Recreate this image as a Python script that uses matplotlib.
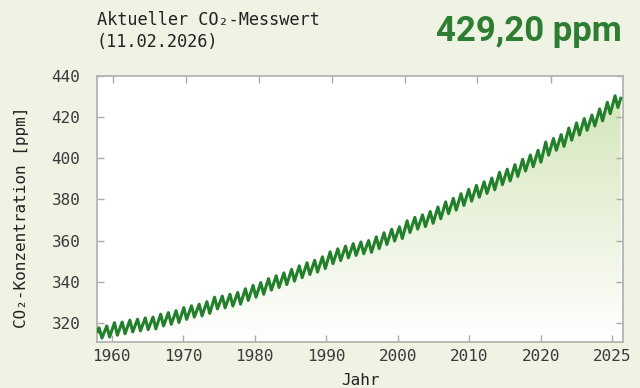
import numpy as np
import matplotlib
matplotlib.use("Agg")
import matplotlib.pyplot as plt
from matplotlib.colors import LinearSegmentedColormap

# Mauna Loa CO2: Jahresmaximum (Mai) und Jahresminimum (Ende Sep.) in ppm
jahre = list(range(1958, 2026))
maximum = [317.6, 318.5, 320.1, 320.4, 321.3, 321.8, 322.4, 322.8, 324.2, 325.0,
           325.9, 327.4, 328.3, 329.1, 330.3, 332.5, 333.0, 333.9, 334.8, 336.6,
           338.2, 339.6, 341.5, 342.9, 344.3, 346.0, 347.7, 349.2, 350.4, 352.1,
           354.5, 356.0, 357.3, 358.5, 359.3, 360.0, 361.8, 363.8, 365.5, 366.7,
           369.6, 371.3, 372.5, 374.1, 376.3, 378.8, 380.5, 382.8, 384.9, 386.8,
           388.6, 390.4, 393.2, 394.7, 396.9, 399.5, 401.6, 403.9, 407.9, 409.6,
           411.5, 414.7, 417.2, 419.3, 421.0, 424.0, 427.2, 430.4]
minimum = [312.6, 313.1, 314.0, 314.7, 315.6, 316.1, 316.7, 317.1, 318.5, 319.3,
           320.2, 321.7, 322.8, 323.4, 324.6, 326.8, 327.3, 328.2, 329.1, 330.9,
           332.5, 333.9, 335.9, 337.2, 338.6, 340.3, 342.0, 343.5, 344.7, 346.4,
           348.8, 350.3, 351.6, 352.8, 353.6, 354.3, 356.1, 358.1, 359.8, 361.0,
           363.9, 365.6, 366.8, 368.4, 370.6, 373.1, 374.8, 377.1, 379.2, 381.1,
           382.9, 384.7, 387.2, 389.0, 391.2, 393.8, 395.9, 398.1, 401.5, 403.9,
           405.8, 408.8, 411.3, 413.6, 415.7, 418.2, 421.7, 424.7]
start_datum, start_wert = 1958.20, 315.7
aktuell_datum, aktuell_wert = 2026.11, 429.20
aktuell_text = "11.02.2026"

x_labels = ["1960", "1970", "1980", "1990", "2000", "2010", "2020", "2025"]
y_ticks = [320, 340, 360, 380, 400, 420, 440]

# Zeitreihe zusammensetzen: Maximum Mitte Mai, Minimum Ende September
t = [start_datum]
c = [start_wert]
for j, hi, lo in zip(jahre, maximum, minimum):
    t += [j + 0.37, j + 0.74]
    c += [hi, lo]
t.append(aktuell_datum)
c.append(aktuell_wert)
t = np.array(t)
c = np.array(c)

bg = "#eef3e4"
gruen = "#22802b"
xmin, xmax = 1958.1, 2026.4
ymin, ymax = 310.7, 440

fig = plt.figure(figsize=(6.4, 3.88), dpi=100, facecolor=bg)
ax = fig.add_axes([97 / 640, 1 - 342 / 388, 526 / 640, 266 / 388])
ax.set_facecolor("white")

# Verlauf unter der Kurve
cmap = LinearSegmentedColormap.from_list("verlauf", ["#ffffff", "#d2e4b5"])
flaeche = ax.fill_between(t, c, ymin, facecolor="none", edgecolor="none")
grad = np.linspace(0, 1, 256).reshape(-1, 1)
img = ax.imshow(grad, extent=[xmin, xmax, ymin, ymax], origin="lower",
                aspect="auto", cmap=cmap, zorder=1)
img.set_clip_path(flaeche.get_paths()[0], transform=ax.transData)

ax.plot(t, c, color=gruen, lw=2.2, solid_joinstyle="round", zorder=3)

ax.set_xlim(xmin, xmax)
ax.set_ylim(ymin, ymax)

mono = ["DejaVu Sans Mono", "DejaVu Sans"]
ax.set_xticks(np.linspace(1960, 2025, len(x_labels)))
ax.set_xticklabels(x_labels)
ax.set_yticks(y_ticks)
for lab in ax.get_xticklabels() + ax.get_yticklabels():
    lab.set_family(mono)
    lab.set_fontsize(11.5)
    lab.set_color("#3a3a3a")

ax.tick_params(direction="in", length=5, width=1, color="#aaaaaa", right=True)
ax.tick_params(axis="x", pad=5)
ax.tick_params(axis="y", pad=12)
for s in ax.spines.values():
    s.set_color("#b4b4b4")
    s.set_linewidth(1.3)

# obere Achse mit eigenen Teilstrichen
ax2 = ax.twiny()
ax2.set_xlim(xmin, xmax)
ax2.set_xticks([1960.2, 1969.6, 1979.1, 1988.6, 1998.1, 2007.5, 2017.0])
ax2.tick_params(direction="in", length=5, width=1, color="#aaaaaa",
                labeltop=False)
for s in ax2.spines.values():
    s.set_visible(False)

ax.set_xlabel("Jahr", family=mono, fontsize=11.5, color="#222222")
ax.xaxis.set_label_coords(0.5, -0.115)
ax.set_ylabel("CO₂-Konzentration [ppm]", family=mono, fontsize=11.5,
              color="#222222")
ax.yaxis.set_label_coords(-0.13, 0.47)

fig.text(97 / 640, 1 - 11 / 388, "Aktueller CO₂-Messwert\n(" + aktuell_text + ")",
         family=mono, fontsize=12.2, color="#222222", va="top", ha="left",
         linespacing=1.3)
fig.text(622 / 640, 1 - 31 / 388, f"{aktuell_wert:.2f} ppm".replace(".", ","),
         family=["Roboto", "DejaVu Sans"], fontweight="bold", fontsize=25,
         color="#2e7d32", ha="right", va="center")

fig.savefig("out.png", dpi=100, facecolor=bg)
